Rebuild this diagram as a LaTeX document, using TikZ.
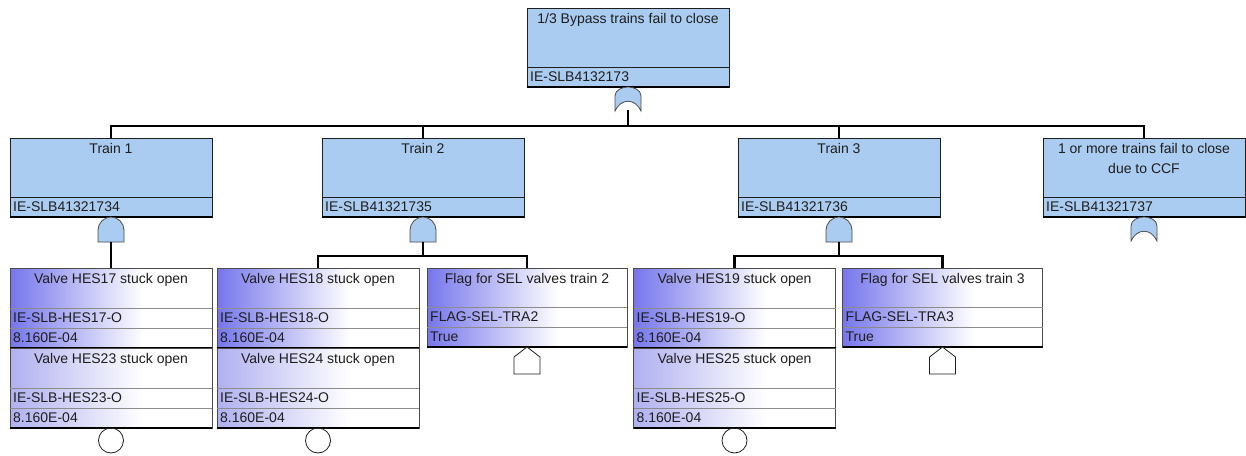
\documentclass[tikz,border=0pt]{standalone}
\usepackage{fontspec}
\setmainfont{Liberation Sans}
\usetikzlibrary{positioning}

\definecolor{gateblue}{RGB}{170,204,240}
\definecolor{evblue}{RGB}{118,118,236}
\definecolor{paleblue}{RGB}{176,176,240}
\definecolor{inkgrey}{RGB}{30,30,30}

\pgfdeclarehorizontalshading{evshade}{100bp}{color(0bp)=(evblue); color(25bp)=(evblue); color(58bp)=(white); color(100bp)=(white)}
\pgfdeclarehorizontalshading{paleshade}{100bp}{color(0bp)=(paleblue); color(25bp)=(paleblue); color(58bp)=(white); color(100bp)=(white)}

\tikzset{
  gatebox/.style={draw=inkgrey, fill=gateblue, line width=0.8pt, minimum width=202pt,
    minimum height=79pt, inner sep=0pt, outer sep=0pt},
  eventbox/.style={draw=inkgrey!80, line width=0.8pt, minimum width=202pt, minimum height=80pt,
    inner sep=0pt, outer sep=0pt, shading=evshade},
  paleevent/.style={eventbox, shading=paleshade},
  flagbox/.style={eventbox, minimum width=200pt, minimum height=79pt},
  desc/.style={font=\fontsize{14}{20}\selectfont, text=inkgrey, align=center, anchor=north, inner sep=0pt},
  code/.style={font=\fontsize{14}{17}\selectfont, text=inkgrey, anchor=west, inner sep=0pt},
  split/.style={draw=inkgrey, line width=0.7pt},
  softsplit/.style={draw=black!45, line width=0.7pt},
  bus/.style={line width=2.4pt, black},
  gateshape/.style={draw=inkgrey!80, line width=0.8pt, fill=gateblue},
  basic/.style={draw=inkgrey, line width=0.8pt, circle, minimum size=25pt, inner sep=0pt, outer sep=0pt},
  orgate/.pic={
    \path[gateshape] (-13,24) -- (-13,9) .. controls (-13,3) and (-6,0) .. (0,0)
      .. controls (6,0) and (13,3) .. (13,9) -- (13,24) .. controls (7,11) and (-7,11) .. (-13,24) -- cycle;
    \coordinate (-out) at (0,23);
  },
  andgate/.pic={
    \path[gateshape] (-13,25) -- (-13,13) .. controls (-13,6) and (-7,0) .. (0,0)
      .. controls (7,0) and (13,6) .. (13,13) -- (13,25) -- cycle;
    \coordinate (-out) at (0,25);
  },
  housegate/.pic={
    \path[draw=inkgrey, line width=0.8pt, fill=white] (0,0) -- (13,10) -- (13,27) -- (-13,27) -- (-13,10) -- cycle;
  }
}

% labels of a gate box: node, description, id
\newcommand{\gatetext}[3]{%
  \node[desc] (#1-d) at ([yshift=-5pt]#1.north) {#2};
  \draw[split] ([yshift=20pt]#1.south west) -- ([yshift=20pt]#1.south east);
  \node[code] (#1-id) at ([xshift=3pt,yshift=10pt]#1.south west) {#3};
  \draw[line width=1.6pt] (#1.south west) -- (#1.south east);}

% labels of a basic event box: node, description, id, value
\newcommand{\eventtext}[4]{%
  \node[desc] (#1-d) at ([yshift=-5pt]#1.north) {#2};
  \draw[softsplit] ([yshift=40pt]#1.south west) -- ([yshift=40pt]#1.south east);
  \draw[softsplit] ([yshift=20pt]#1.south west) -- ([yshift=20pt]#1.south east);
  \node[code] (#1-id) at ([xshift=3pt,yshift=30pt]#1.south west) {#3};
  \node[code] (#1-p) at ([xshift=3pt,yshift=10pt]#1.south west) {#4};
  \draw[line width=1.6pt] (#1.south west) -- (#1.south east);}

\begin{document}
\begin{tikzpicture}[x=1pt,y=-1pt]
    \useasboundingbox (0,0) rectangle (1246,455);
    \fill[white] (0,0) rectangle (1246,455);

    % gates
    \node[gatebox] (top) at (628,47.5) {};
    \gatetext{top}{1/3 Bypass trains fail to close}{IE-SLB4132173}

    \node[gatebox] (train1) at (111,177.5) {};
    \gatetext{train1}{Train 1}{IE-SLB41321734}
    \node[gatebox] (train2) at (423,177.5) {};
    \gatetext{train2}{Train 2}{IE-SLB41321735}
    \node[gatebox] (train3) at (839,177.5) {};
    \gatetext{train3}{Train 3}{IE-SLB41321736}
    \node[gatebox] (ccf) at (1144,177.5) {};
    \gatetext{ccf}{1 or more trains fail to close\\due to CCF}{IE-SLB41321737}

    % basic events
    \node[eventbox] (hes17) at (111,308) {};
    \eventtext{hes17}{Valve HES17 stuck open}{IE-SLB-HES17-O}{8.160E-04}
    \node[paleevent] (hes23) at (111,388) {};
    \eventtext{hes23}{Valve HES23 stuck open}{IE-SLB-HES23-O}{8.160E-04}

    \node[eventbox] (hes18) at (318,308) {};
    \eventtext{hes18}{Valve HES18 stuck open}{IE-SLB-HES18-O}{8.160E-04}
    \node[paleevent] (hes24) at (318,388) {};
    \eventtext{hes24}{Valve HES24 stuck open}{IE-SLB-HES24-O}{8.160E-04}
    \node[flagbox] (flag2) at (527,307.5) {};
    \eventtext{flag2}{Flag for SEL valves train 2}{FLAG-SEL-TRA2}{True}

    \node[eventbox] (hes19) at (734.5,308) {};
    \eventtext{hes19}{Valve HES19 stuck open}{IE-SLB-HES19-O}{8.160E-04}
    \node[paleevent] (hes25) at (734.5,388) {};
    \eventtext{hes25}{Valve HES25 stuck open}{IE-SLB-HES25-O}{8.160E-04}
    \node[flagbox] (flag3) at (942.5,307.5) {};
    \eventtext{flag3}{Flag for SEL valves train 3}{FLAG-SEL-TRA3}{True}

    % gate symbols
    \pic (g0) at (top.south) {orgate};
    \pic (g1) at (train1.south) {andgate};
    \pic (g2) at (train2.south) {andgate};
    \pic (g3) at (train3.south) {andgate};
    \pic (g4) at (ccf.south) {orgate};
    \pic (h2) at (flag2.south) {housegate};
    \pic (h3) at (flag3.south) {housegate};

    \node[basic, below=0pt of hes23] (c23) {};
    \node[basic, below=0pt of hes24] (c24) {};
    \node[basic, below=0pt of hes25] (c25) {};

    % connectors
    \coordinate (bus0) at (628,126);
    \coordinate (bus2) at (423,256);
    \coordinate (bus3) at (839,256);

    \draw[bus] (g0-out) -- (bus0);
    \draw[bus] (train1.north) |- (bus0) -| (ccf.north);
    \draw[bus] (train2.north) -- (train2.north |- bus0);
    \draw[bus] (train3.north) -- (train3.north |- bus0);

    \draw[bus] (g1-out) -- (hes17.north);
    \draw[bus] (g2-out) -- (bus2);
    \draw[bus] (hes18.north) |- (bus2) -| (flag2.north);
    \draw[bus] (g3-out) -- (bus3);
    \draw[bus] (hes19.north) |- (bus3) -| (flag3.north);
\end{tikzpicture}
\end{document}
